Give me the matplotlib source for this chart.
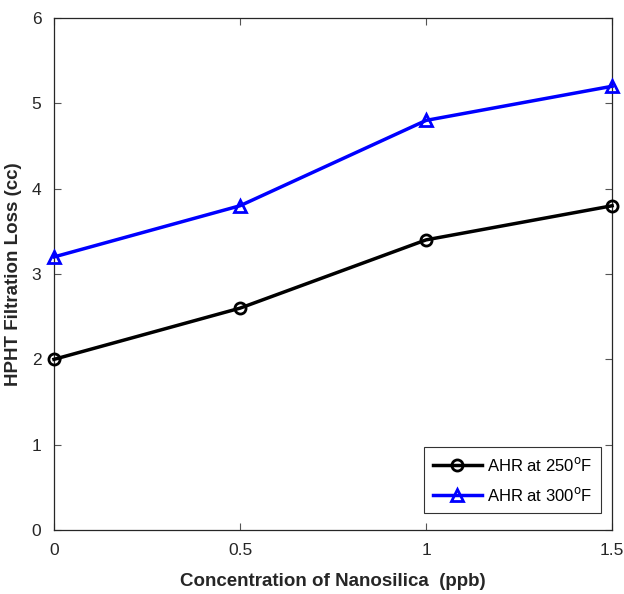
import matplotlib
matplotlib.use("Agg")
import matplotlib.pyplot as plt

# data
concentration = [0, 0.5, 1, 1.5]
loss_250 = [2.0, 2.6, 3.4, 3.8]
loss_300 = [3.2, 3.8, 4.8, 5.2]
x_ticks = [0, 0.5, 1, 1.5]
x_tick_labels = ["0", "0.5", "1", "1.5"]
y_ticks = [0, 1, 2, 3, 4, 5, 6]

plt.rcParams["font.family"] = ["Liberation Sans", "DejaVu Sans"]

fig = plt.figure(figsize=(6.24, 5.94), dpi=100)
ax = fig.add_axes([0.0865, 0.1077, 0.8945, 0.862])

ax.plot(concentration, loss_250, color="black", lw=2.5, marker="o", ms=8,
        mfc="none", mec="black", mew=2, clip_on=False, zorder=3,
        label=r"AHR at 250$^{\rm o}$F")
ax.plot(concentration, loss_300, color="blue", lw=2.5, marker="^", ms=9,
        mfc="none", mec="blue", mew=2, clip_on=False, zorder=3,
        label=r"AHR at 300$^{\rm o}$F")

ax.set_xlim(0, 1.5)
ax.set_ylim(0, 6)
ax.set_xticks(x_ticks)
ax.set_xticklabels(x_tick_labels)
ax.set_yticks(y_ticks)
ax.tick_params(direction="in", length=5, width=0.8, labelsize=12.5, pad=9,
               top=True, right=True, color="#555555", labelcolor="#262626")
for s in ax.spines.values():
    s.set_linewidth(0.9)
    s.set_color("#262626")

ax.set_xlabel("Concentration of Nanosilica  (ppb)", fontsize=13.5, fontweight="bold",
              color="#262626", labelpad=11)
ax.set_ylabel("HPHT Filtration Loss (cc)", fontsize=13.5, fontweight="bold",
              color="#262626", labelpad=7)

leg = ax.legend(loc="lower right", bbox_to_anchor=(0.98, 0.033), fontsize=12,
                frameon=True, fancybox=False, edgecolor="black",
                handlelength=2.9, borderaxespad=0, labelspacing=0.7,
                handletextpad=0.3, borderpad=0.55)
leg.get_frame().set_linewidth(0.8)

fig.savefig("out.png", dpi=100)
